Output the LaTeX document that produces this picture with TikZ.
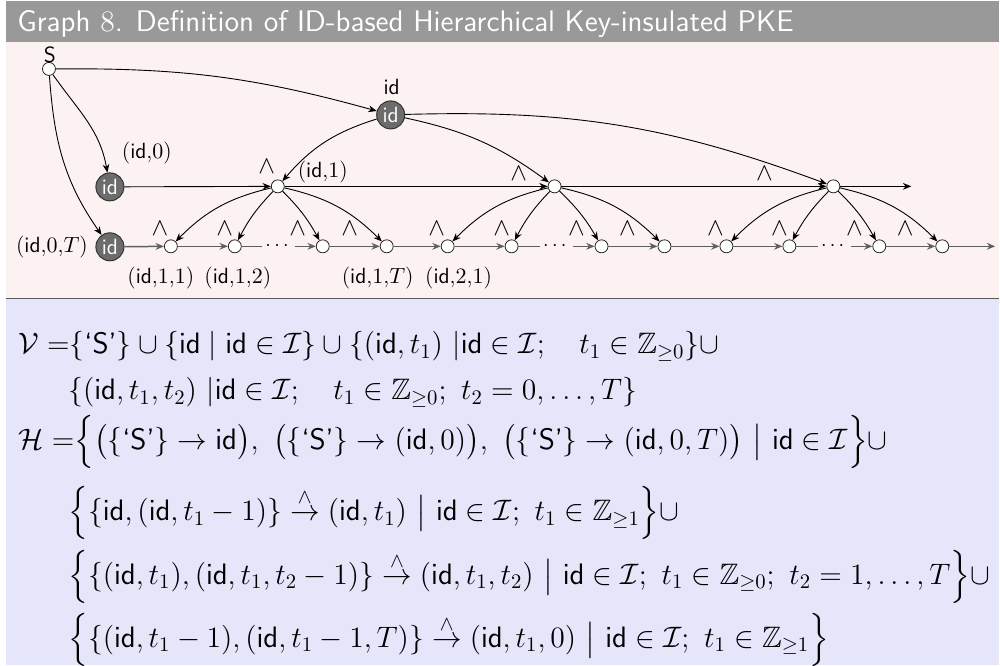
\RequirePackage{fix-cm}
\documentclass[tikz,border=0pt]{standalone}
\usepackage{amsmath,amssymb}
\usetikzlibrary{arrows.meta}
\definecolor{titlegray}{RGB}{153,153,153}
\definecolor{pinkbg}{RGB}{253,242,242}
\definecolor{lavbg}{RGB}{230,230,250}
\definecolor{nodegray}{RGB}{108,108,108}
\definecolor{divgray}{RGB}{90,90,90}
\definecolor{rowgray}{RGB}{95,95,95}
\begin{document}
\begin{tikzpicture}[x=0.5pt,y=-0.5pt,
  >={Stealth[length=4.2pt,width=3.4pt]},
  srcnode/.style={circle,draw=black!85,fill=white,minimum size=6.5pt,inner sep=0pt,line width=0.4pt},
  idnode/.style={circle,draw=black!80,fill=nodegray,text=white,minimum size=14pt,inner sep=0pt,line width=0.5pt,font=\sffamily\fontsize{11}{11}\selectfont},
  kidnode/.style={circle,draw=black!85,fill=white,minimum size=6.5pt,inner sep=0pt,line width=0.4pt},
  glab/.style={inner sep=0pt,font=\fontsize{11}{12}\selectfont},
  wlab/.style={inner sep=0pt,font=\fontsize{12.5}{14}\selectfont},
  arr/.style={->,black,line width=0.45pt},
  rowarr/.style={->,draw=rowgray,line width=0.75pt},
  eqline/.style={anchor=base west,inner sep=0pt,font=\fontsize{14.8}{17.5}\selectfont},
]
% backgrounds
\fill[white] (0,0) rectangle (1000,666);
\fill[titlegray] (6,1) rectangle (1000,42);
\fill[pinkbg] (6,42) rectangle (1000,298);
\fill[lavbg] (6,299.5) rectangle (1000,666);
\draw[divgray,line width=0.8pt] (6,298.7) -- (1000,298.7);
\useasboundingbox (0,0) rectangle (1000,666);

\node[anchor=base west,inner sep=0pt,text=white,font=\sffamily\fontsize{14.9}{17}\selectfont] (title) at (17,32)
  {Graph $8$. Definition of ID-based Hierarchical Key-insulated PKE};

% graph nodes
\node[srcnode] (S) at (49,69) {};
\node[glab] (Slab) at (50,55) {\textsf{S}};
\node[idnode] (top) at (391,115) {id};
\node[glab] (toplab) at (392,87) {\textsf{id}};
\node[idnode] (z0) at (110,187) {id};
\node[glab] (z0lab) at (147,153) {(\textsf{id},$0$)};
\node[idnode] (z0T) at (110,247) {id};
\node[glab] (z0Tlab) at (52,247) {(\textsf{id},$0$,$T$)};

\node[kidnode] (m1) at (278,186.5) {};
\node[kidnode] (m2) at (555,186.5) {};
\node[kidnode] (m3) at (834,186.5) {};
\coordinate (mEnd) at (912,186.5);
\node[glab] (m1lab) at (323,172) {(\textsf{id},$1$)};

\foreach \g/\a/\b/\c/\d in {1/171/235/323/387, 2/448/512/602/665, 3/727/790/880/943}{
  \node[kidnode] (k\g a) at (\a,246.5) {};
  \node[kidnode] (k\g b) at (\b,246.5) {};
  \node[kidnode] (k\g c) at (\c,246.5) {};
  \node[kidnode] (k\g d) at (\d,246.5) {};
  \node[wlab] (w\g a) at ({\a-11},229) {$\wedge$};
  \node[wlab] (w\g b) at ({\b-10},229) {$\wedge$};
  \node[wlab] (w\g c) at ({\c-25},229) {$\wedge$};
  \node[wlab] (w\g d) at ({\d-37},229) {$\wedge$};
  \draw[arr] (m\g) to[bend right=16] (k\g a);
  \draw[arr] (m\g) to[bend right=8] (k\g b);
  \draw[arr] (m\g) to[bend left=8] (k\g c);
  \draw[arr] (m\g) to[bend left=16] (k\g d);
}
\coordinate (bEnd) at (996,246.5);
\node[wlab] (wm1) at (267,167) {$\wedge$};
\node[wlab] (wm2) at (519,174) {$\wedge$};
\node[wlab] (wm3) at (765,174) {$\wedge$};

\node[glab] (l11) at (161,278) {(\textsf{id},$1$,$1$)};
\node[glab] (l12) at (238,278) {(\textsf{id},$1$,$2$)};
\node[glab] (l1T) at (378,278) {(\textsf{id},$1$,$T$)};
\node[glab] (l21) at (459,278) {(\textsf{id},$2$,$1$)};

% edges from S
\draw[arr] (S) to[bend left=8] (top);
\draw[arr] (S) to[out=-55,in=100] (z0);
\draw[arr] (S) to[out=-86,in=125] (z0T);
% edges from top id
\draw[arr] (top) to[bend right=16] (m1);
\draw[arr] (top) to[bend left=12] (m2);
\draw[arr] (top) to[bend left=11] (m3);
% middle row
\draw[arr] (z0) -- (m1);
\draw[arr] (m1) -- (m2);
\draw[arr] (m2) -- (m3);
\draw[arr] (m3) -- (mEnd);
% bottom row
\draw[rowarr] (z0T) -- (k1a);
\foreach \g in {1,2,3}{
  \draw[rowarr] (k\g a) -- (k\g b);
  \draw[rowarr] (k\g b) -- node[fill=pinkbg,inner sep=1.5pt,text=black]{$\cdots$} (k\g c);
  \draw[rowarr] (k\g c) -- (k\g d);
}
\draw[rowarr] (k1d) -- (k2a);
\draw[rowarr] (k2d) -- (k3a);
\draw[rowarr] (k3d) -- (bEnd);

% equations
\node[eqline] (L1) at (18,354) {$\mathcal{V}\;{=}\{\text{\textsf{`S'}}\}\cup\{\mathsf{id}\mid\mathsf{id}\in\mathcal{I}\}\cup\{(\mathsf{id},t_1)\ |\mathsf{id}\in\mathcal{I};\quad t_1\in\mathbb{Z}_{\geq0}\}\cup$};
\node[eqline] (L2) at (68,400) {$\{(\mathsf{id},t_1,t_2)\ |\mathsf{id}\in\mathcal{I};\quad t_1\in\mathbb{Z}_{\geq0};\ t_2=0,\ldots,T\}$};
\node[eqline] (L3) at (18,450) {$\mathcal{H}\;{=}\Big\{\big(\{\text{\textsf{`S'}}\}\rightarrow\mathsf{id}\big),\ \big(\{\text{\textsf{`S'}}\}\rightarrow(\mathsf{id},0)\big),\ \big(\{\text{\textsf{`S'}}\}\rightarrow(\mathsf{id},0,T)\big)\ \big|\ \mathsf{id}\in\mathcal{I}\Big\}\cup$};
\node[eqline] (L4) at (68,521) {$\Big\{\{\mathsf{id},(\mathsf{id},t_1-1)\}\stackrel{\wedge}{\rightarrow}(\mathsf{id},t_1)\ \big|\ \mathsf{id}\in\mathcal{I};\ t_1\in\mathbb{Z}_{\geq1}\Big\}\cup$};
\node[eqline] (L5) at (68,585) {$\Big\{\{(\mathsf{id},t_1),(\mathsf{id},t_1,t_2-1)\}\stackrel{\wedge}{\rightarrow}(\mathsf{id},t_1,t_2)\ \big|\ \mathsf{id}\in\mathcal{I};\ t_1\in\mathbb{Z}_{\geq0};\ t_2=1,\ldots,T\Big\}\cup$};
\node[eqline] (L6) at (68,648) {$\Big\{\{(\mathsf{id},t_1-1),(\mathsf{id},t_1-1,T)\}\stackrel{\wedge}{\rightarrow}(\mathsf{id},t_1,0)\ \big|\ \mathsf{id}\in\mathcal{I};\ t_1\in\mathbb{Z}_{\geq1}\Big\}$};
\end{tikzpicture}
\end{document}
